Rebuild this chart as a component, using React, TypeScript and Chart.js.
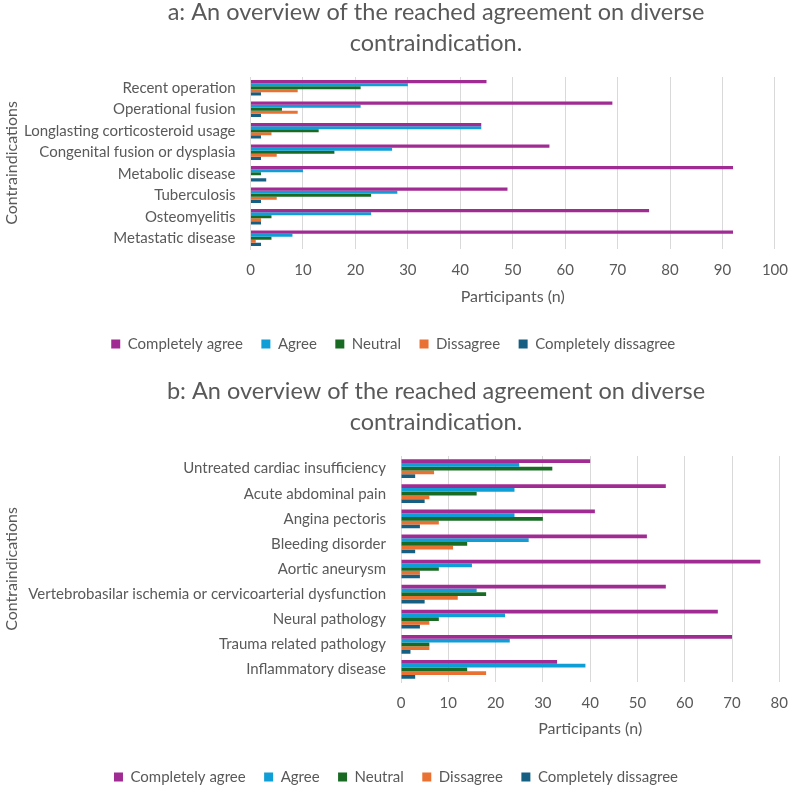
import React, { useEffect, useRef } from "react";
import { Chart, registerables } from "chart.js";

Chart.register(...registerables);

// Series labels and colours (shared by both panels)
const seriesNames = ["Completely agree", "Agree", "Neutral", "Dissagree", "Completely dissagree"];
const seriesColors = ["#A02B93", "#0F9ED5", "#196B24", "#E97132", "#156082"];

// Panel a
const titleA = ["a: An overview of the reached agreement on diverse", "contraindication."];
const categoriesA = [
  "Recent operation",
  "Operational fusion",
  "Longlasting corticosteroid usage",
  "Congenital fusion or dysplasia",
  "Metabolic disease",
  "Tuberculosis",
  "Osteomyelitis",
  "Metastatic disease",
];
const completelyAgreeA = [45, 69, 44, 57, 92, 49, 76, 92];
const agreeA = [30, 21, 44, 27, 10, 28, 23, 8];
const neutralA = [21, 6, 13, 16, 2, 23, 4, 4];
const disagreeA = [9, 9, 4, 5, 0, 5, 2, 1];
const completelyDisagreeA = [2, 2, 2, 2, 3, 2, 2, 2];

// Panel b
const titleB = ["b: An overview of the reached agreement on diverse", "contraindication."];
const categoriesB = [
  "Untreated cardiac insufficiency",
  "Acute abdominal pain",
  "Angina pectoris",
  "Bleeding disorder",
  "Aortic aneurysm",
  "Vertebrobasilar ischemia or cervicoarterial dysfunction",
  "Neural pathology",
  "Trauma related pathology",
  "Inflammatory disease",
];
const completelyAgreeB = [40, 56, 41, 52, 76, 56, 67, 70, 33];
const agreeB = [25, 24, 24, 27, 15, 16, 22, 23, 39];
const neutralB = [32, 16, 30, 14, 8, 18, 8, 6, 14];
const disagreeB = [7, 6, 8, 11, 4, 12, 6, 6, 18];
const completelyDisagreeB = [3, 5, 4, 3, 4, 5, 4, 2, 3];

const TEXT = "#595959";
const GRID = "#D9D9D9";
const FONT = "Lato";

type PanelProps = {
  title: string[];
  categories: string[];
  series: number[][];
  xMax: number;
  width: number;
  height: number;
  top: number;
  titleY: number[];
  areaTop: number;
  areaLeft: number;
  padRight: number;
  padBottom: number;
  axisHeight: number;
  axisTitlePad: number;
  catPct: number;
};

function Panel(p: PanelProps) {
  const ref = useRef<HTMLCanvasElement | null>(null);

  useEffect(() => {
    if (!ref.current) return;

    // Two-line heading centred over the plot region
    const headline = {
      id: "headline",
      afterDraw(chart: Chart) {
        const ctx = chart.ctx;
        ctx.save();
        ctx.font = `23.5px ${FONT}`;
        ctx.fillStyle = TEXT;
        ctx.textAlign = "center";
        ctx.textBaseline = "middle";
        p.title.forEach((line, i) => ctx.fillText(line, 436, p.titleY[i]));
        ctx.restore();
      },
    };

    const chart = new Chart(ref.current, {
      type: "bar",
      data: {
        labels: p.categories,
        datasets: p.series.map((values, i) => ({
          label: seriesNames[i],
          data: values,
          backgroundColor: seriesColors[i],
          borderWidth: 0,
          barPercentage: 1,
          categoryPercentage: p.catPct,
        })),
      },
      options: {
        indexAxis: "y",
        responsive: false,
        animation: false,
        layout: {
          padding: { top: p.areaTop, left: 0, right: p.padRight, bottom: p.padBottom },
        },
        plugins: {
          title: { display: false },
          tooltip: { enabled: false },
          legend: {
            position: "bottom",
            labels: {
              color: TEXT,
              font: { family: FONT, size: 15 },
              boxWidth: 9,
              boxHeight: 9,
              padding: 18.5,
            },
          },
        },
        scales: {
          x: {
            min: 0,
            max: p.xMax,
            ticks: {
              stepSize: 10,
              color: TEXT,
              font: { family: FONT, size: 15 },
              padding: 12,
            },
            grid: { color: GRID, lineWidth: 1, drawTicks: false },
            border: { display: false },
            title: {
              display: true,
              text: "Participants (n)",
              color: TEXT,
              font: { family: FONT, size: 16 },
              padding: { top: 0, bottom: p.axisTitlePad },
            },
            afterFit(scale: any) {
              scale.height = p.axisHeight;
            },
          },
          y: {
            ticks: {
              color: TEXT,
              font: { family: FONT, size: 15 },
              padding: 15,
              autoSkip: false,
            },
            grid: { display: false, drawTicks: false },
            border: { display: true, color: GRID, width: 1 },
            title: {
              display: true,
              text: "Contraindications",
              color: TEXT,
              font: { family: FONT, size: 16 },
              padding: { top: 2, bottom: 0 },
            },
            afterFit(scale: any) {
              scale.width = p.areaLeft;
            },
          },
        },
      },
      plugins: [headline],
    });

    return () => chart.destroy();
  }, []);

  return (
    <canvas
      ref={ref}
      width={p.width}
      height={p.height}
      style={{ position: "absolute", left: 0, top: p.top, width: p.width, height: p.height }}
    />
  );
}

export default function App() {
  return (
    <div
      style={{
        position: "absolute",
        left: 0,
        top: 0,
        width: 800,
        height: 785,
        overflow: "hidden",
        background: "#ffffff",
      }}
    >
      <Panel
        title={titleA}
        categories={categoriesA}
        series={[completelyAgreeA, agreeA, neutralA, disagreeA, completelyDisagreeA]}
        xMax={100}
        width={800}
        height={370}
        top={0}
        titleY={[12, 43]}
        areaTop={77}
        areaLeft={250.5}
        padRight={13.5}
        padBottom={8.5}
        axisHeight={69}
        axisTitlePad={11.5}
        catPct={0.71}
      />
      <Panel
        title={titleB}
        categories={categoriesB}
        series={[completelyAgreeB, agreeB, neutralB, disagreeB, completelyDisagreeB]}
        xMax={80}
        width={800}
        height={430}
        top={370}
        titleY={[21, 52]}
        areaTop={86}
        areaLeft={401}
        padRight={8}
        padBottom={5.5}
        axisHeight={69}
        axisTitlePad={12.5}
        catPct={0.745}
      />
    </div>
  );
}
